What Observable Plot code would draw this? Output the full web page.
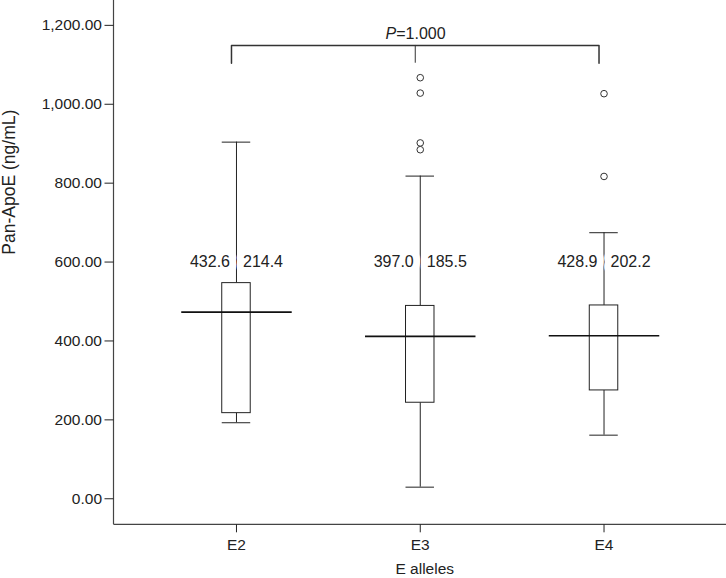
<!DOCTYPE html>
<html><head><meta charset="utf-8">
<script src="https://cdn.jsdelivr.net/npm/d3@7"></script>
<script src="https://cdn.jsdelivr.net/npm/@observablehq/plot@0.6"></script>
<style>html,body{margin:0;padding:0;background:#fff;} svg{display:block}</style>
</head><body><div id="chart"></div>
<script>
const categories = ["E2", "E3", "E4"];
const whiskerLow = [192.7, 29.4, 161.2];
const quartile1 = [217.0, 243.4, 274.6];
const medians = [473.1, 411.5, 413.2];
const quartile3 = [546.6, 488.8, 490.0];
const whiskerHigh = [904.0, 817.9, 674.4];
const meanLabels = ["432.6", "397.0", "428.9"];
const sdLabels = ["214.4", "185.5", "202.2"];
const outlierGroups = ["E3", "E3", "E3", "E3", "E4", "E4"];
const outlierValues = [1067.3, 1028.3, 902.0, 884.8, 1026.8, 817.0];
const yTicks = [0, 200, 400, 600, 800, 1000, 1200];
const labelLevel = 600;
const bracketEnds = ["E2", "E4"];
const bracketMid = "E3";
const bracketTop = 1149;
const bracketBottom = 1104;
const pLevel = 1179;
const pLabel = ["P", "=1.000"];
const xTitle = "E alleles";
const yTitle = "Pan-ApoE (ng/mL)";
const yDomain = [-66, 1263];

const boxes = categories.map((c, i) => ({cat: c, lo: whiskerLow[i], q1: quartile1[i], med: medians[i], q3: quartile3[i], hi: whiskerHigh[i], mean: meanLabels[i], sd: sdLabels[i]}));
const outliers = outlierValues.map((v, i) => ({cat: outlierGroups[i], v}));
const bracketPath = [
  {cat: bracketEnds[0], y: bracketBottom}, {cat: bracketEnds[0], y: bracketTop},
  {cat: bracketEnds[1], y: bracketTop}, {cat: bracketEnds[1], y: bracketBottom}
];

const ink = "#222";
const axisLines = (index, scales, values, dims) => {
  const g = d3.create("svg:g").attr("stroke", "#444").attr("stroke-width", 1.2).attr("fill", "none");
  const x0 = dims.marginLeft, yb = dims.height - dims.marginBottom;
  g.append("line").attr("x1", x0).attr("x2", x0).attr("y1", dims.marginTop).attr("y2", yb);
  g.append("line").attr("x1", x0).attr("x2", dims.width - dims.marginRight).attr("y1", yb).attr("y2", yb);
  return g.node();
};

const chart = Plot.plot({
  width: 726, height: 578,
  marginLeft: 113.5, marginRight: 0, marginTop: 0, marginBottom: 53.7,
  style: {fontFamily: "'Liberation Sans', Arial, sans-serif", fontSize: "15.5px", color: ink, background: "#fff", overflow: "visible"},
  x: {type: "band", domain: categories, paddingInner: 0.845, paddingOuter: 0.589, align: 0.5, round: false},
  y: {domain: yDomain},
  marks: [
    axisLines,
    Plot.axisY({ticks: yTicks, tickFormat: d3.format(",.2f"), tickSize: 9, tickPadding: 3, label: null, fontSize: 15.5}),
    Plot.axisX({tickSize: 8, tickPadding: 6, label: null, fontSize: 15.5}),
    Plot.ruleX(boxes, {x: "cat", y1: "q3", y2: "hi", stroke: ink}),
    Plot.ruleX(boxes, {x: "cat", y1: "lo", y2: "q1", stroke: ink}),
    Plot.tickY(boxes, {x: "cat", y: "hi", stroke: ink}),
    Plot.tickY(boxes, {x: "cat", y: "lo", stroke: ink}),
    Plot.barY(boxes, {x: "cat", y1: "q1", y2: "q3", fill: "white", stroke: ink}),
    Plot.tickY(boxes, {x: "cat", y: "med", insetLeft: -40.5, insetRight: -41.5, strokeWidth: 1.6, stroke: "#111"}),
    Plot.dot(outliers, {x: "cat", y: "v", r: 3.3, stroke: "#333", fill: "white", strokeWidth: 1}),
    Plot.text(boxes, {x: "cat", y: () => labelLevel, text: "mean", textAnchor: "end", dx: -6.5, fontSize: 16, fill: ink, stroke: "white", strokeWidth: 14}),
    Plot.text(boxes, {x: "cat", y: () => labelLevel, text: "sd", textAnchor: "start", dx: 6.5, fontSize: 16, fill: ink, stroke: "white", strokeWidth: 14}),
    Plot.line(bracketPath, {x: "cat", y: "y", stroke: "#333", dx: -5}),
    Plot.ruleX([bracketMid], {x: d => d, y1: () => bracketBottom, y2: () => bracketTop, stroke: "#333", dx: -5}),
    Plot.text([pLabel[0]], {x: () => bracketMid, y: () => pLevel, text: d => d, textAnchor: "end", dx: -24, fontSize: 16, fontStyle: "italic", fill: ink}),
    Plot.text([pLabel[1]], {x: () => bracketMid, y: () => pLevel, text: d => d, textAnchor: "start", dx: -24, fontSize: 16, fill: ink}),
    Plot.text([xTitle], {frameAnchor: "bottom", text: d => d, dy: 44.5, dx: 4.5, fontSize: 15.5, lineAnchor: "middle", fill: ink}),
    Plot.text([yTitle], {frameAnchor: "left", text: d => d, rotate: -90, dx: -105, dy: -8, fontSize: 17.5, lineAnchor: "middle", fill: ink})
  ]
});
document.getElementById("chart").appendChild(chart);
</script>
</body></html>
